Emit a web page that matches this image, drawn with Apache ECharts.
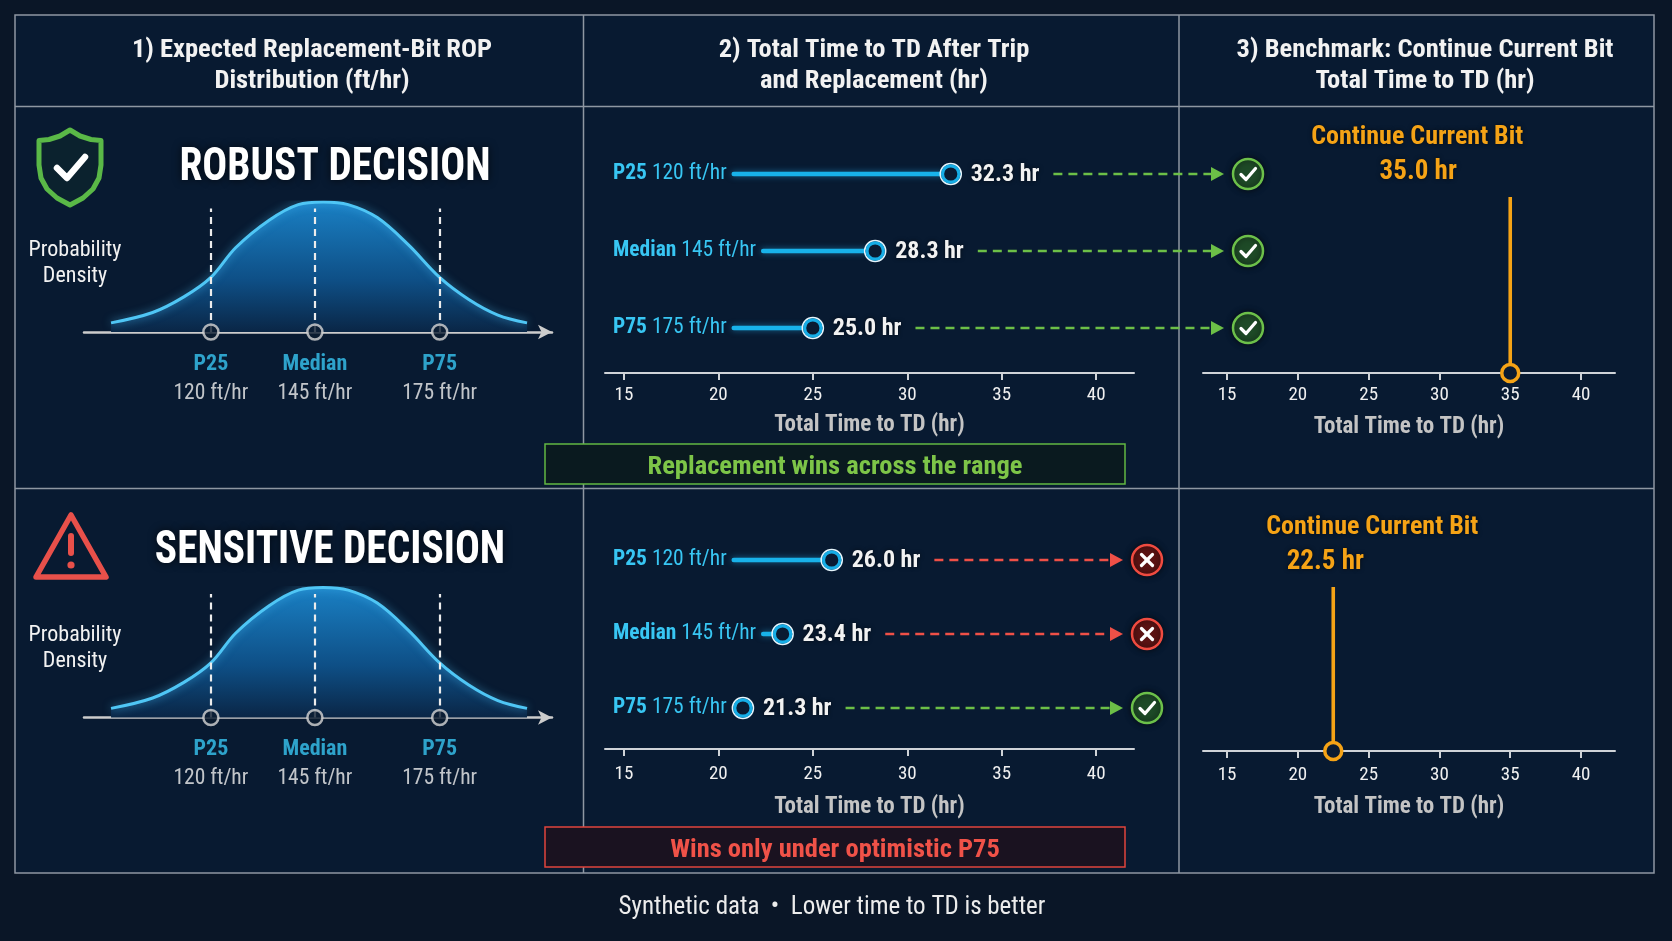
<!DOCTYPE html>
<html>
<head>
<meta charset="utf-8">
<script src="https://cdn.jsdelivr.net/npm/echarts@6/dist/echarts.min.js"></script>
<style>
html,body{margin:0;padding:0;background:#0a1627;}
#chart{width:1672px;height:941px;}
</style>
</head>
<body>
<div id="chart"></div>
<script>
// ---------------- DATA ----------------
const quantileLabels = ['P25', 'Median', 'P75'];
const ropValues = [120, 145, 175];                 // ft/hr
const robustTimes = [32.3, 28.3, 25.0];            // hr, total time to TD after trip
const sensitiveTimes = [26.0, 23.4, 21.3];         // hr
const robustBenchmark = 35.0;                      // hr, continue current bit
const sensitiveBenchmark = 22.5;                   // hr
const timeTicks = [15, 20, 25, 30, 35, 40];
// relative probability density [ROP ft/hr, density]
const densityRobust = [[96,0.07],[106,0.15],[113.5,0.27],[120,0.42],[126,0.65],[134,0.86],[141,0.98],[147,1.0],[153,0.98],[160,0.88],[167.5,0.67],[175,0.42],[182,0.25],[189,0.13],[196,0.07]];
const densitySensitive = [[96,0.07],[106,0.15],[113.5,0.27],[120,0.42],[126,0.65],[134,0.86],[141,0.98],[147,1.0],[153,0.98],[160,0.88],[167.5,0.67],[175,0.42],[182,0.25],[189,0.13],[196,0.07]];
const headers = [
  ['1) Expected Replacement-Bit ROP', 'Distribution (ft/hr)'],
  ['2) Total Time to TD After Trip', 'and Replacement (hr)'],
  ['3) Benchmark: Continue Current Bit', 'Total Time to TD (hr)']
];
const decisionTitles = ['ROBUST DECISION', 'SENSITIVE DECISION'];
const bannerTexts = ['Replacement wins across the range', 'Wins only under optimistic P75'];
const benchmarkName = 'Continue Current Bit';
const axisName = 'Total Time to TD (hr)';
const footerText = 'Synthetic data  \u2022  Lower time to TD is better';

// ---------------- STYLE ----------------
const FF = "'Liberation Sans Narrow','Roboto Condensed','DejaVu Sans Condensed',Roboto,'Noto Sans',sans-serif";
const fnt = (w, s) => `${w} ${s}px ${FF}`;
const C = {
  white: '#f2f2f2', cyan: '#38c6f3', stem: '#18b2ea', gray: '#c4c4c4',
  orange: '#f5a316', green: '#6cbf47', red: '#ef5047', axis: '#cfd3d8',
  panel: '#081a31', dark: '#0a1b32', border: '#8e97a2'
};
const mctx = document.createElement('canvas').getContext('2d');
function measure(text, f) { mctx.font = f; return mctx.measureText(text).width; }

function txt(text, x, y, f, fill, align, extra, props) {
  return Object.assign({
    type: 'text', x: x, y: y,
    style: Object.assign({
      text: text, font: f, fill: fill,
      align: align || 'center', textAlign: align || 'center',
      verticalAlign: 'middle', textVerticalAlign: 'middle'
    }, extra || {})
  }, props || {});
}

const chart = echarts.init(document.getElementById('chart'), null, {renderer: 'canvas'});

// ---------- lollipop panel renderer ----------
function lollipop(times, bench, iconDx) {
  return function (params, api) {
    const i = params.dataIndex;
    const v = api.value(0);
    const row = api.value(1);
    const pt = api.coord([v, row]);
    const y = pt[1];
    const x0 = api.coord([14, row])[0] + 8;
    const gridRight = api.coord([42, row])[0];
    const fb = fnt('bold', 21.5), fr = fnt('normal', 21.5), fv = fnt('bold', 24);
    const lb = quantileLabels[i];
    const lr = ' ' + ropValues[i] + ' ft/hr';
    const wB = measure(lb, fb), wR = measure(lr, fr);
    const els = [];
    els.push(txt(lb, x0, y, fb, C.cyan, 'left'));
    els.push(txt(lr, x0 + wB, y, fr, C.cyan, 'left'));
    const stemStart = x0 + wB + wR + 7;
    if (stemStart < pt[0] - 11) {
      els.push({type: 'line', shape: {x1: stemStart, y1: y, x2: pt[0] - 9, y2: y},
        style: {stroke: C.stem, lineWidth: 4.5, lineCap: 'round', shadowBlur: 6, shadowColor: 'rgba(40,180,240,0.5)'}});
    }
    els.push({type: 'circle', shape: {cx: pt[0], cy: y, r: 10.5}, style: {fill: C.dark, stroke: '#e6f5fc', lineWidth: 1.6}});
    els.push({type: 'circle', shape: {cx: pt[0], cy: y, r: 8.2}, style: {fill: 'none', stroke: '#16ade6', lineWidth: 3.2}});
    const vt = v.toFixed(1) + ' hr';
    els.push(txt(vt, pt[0] + 20, y + 1, fv, C.white, 'left', {textShadowBlur: 4, textShadowColor: 'rgba(0,0,0,0.6)'}));
    const wV = measure(vt, fv);
    const win = v < bench;
    const col = win ? C.green : C.red;
    const iconX = gridRight + iconDx;
    const tip = iconX - 24;
    const ds = pt[0] + 20 + wV + 14;
    els.push({type: 'line', shape: {x1: ds, y1: y, x2: tip - 12, y2: y},
      style: {stroke: col, lineWidth: 2.5, lineDash: [9, 6]}});
    els.push({type: 'polygon', shape: {points: [[tip - 13, y - 7], [tip, y], [tip - 13, y + 7]]}, style: {fill: col}});
    els.push({type: 'circle', shape: {cx: iconX, cy: y, r: 15},
      style: {fill: win ? '#1e4a27' : '#5c1313', stroke: win ? '#6cc04a' : '#ef4b40', lineWidth: 2.5, shadowBlur: 6, shadowColor: 'rgba(0,0,0,0.6)'}});
    if (win) {
      els.push({type: 'polyline', shape: {points: [[iconX - 7, y + 0.5], [iconX - 2, y + 5.5], [iconX + 7.5, y - 5.5]]},
        style: {stroke: '#ffffff', lineWidth: 3.2, lineCap: 'round', lineJoin: 'round', fill: 'none'}});
    } else {
      els.push({type: 'line', shape: {x1: iconX - 5.5, y1: y - 5.5, x2: iconX + 5.5, y2: y + 5.5}, style: {stroke: '#fff', lineWidth: 3.2, lineCap: 'round'}});
      els.push({type: 'line', shape: {x1: iconX - 5.5, y1: y + 5.5, x2: iconX + 5.5, y2: y - 5.5}, style: {stroke: '#fff', lineWidth: 3.2, lineCap: 'round'}});
    }
    return {type: 'group', children: els};
  };
}

// ---------- benchmark renderer ----------
function benchmark(titleDx, valueDx) {
  return function (params, api) {
    const v = api.value(0);
    const base = api.coord([v, 0]);
    const top = api.coord([v, 1]);
    return {type: 'group', children: [
      {type: 'line', shape: {x1: base[0], y1: top[1], x2: base[0], y2: base[1] - 8}, style: {stroke: C.orange, lineWidth: 3.6}},
      {type: 'circle', shape: {cx: base[0], cy: base[1], r: 8.5}, style: {fill: C.dark, stroke: C.orange, lineWidth: 3.5}},
      txt(benchmarkName, base[0] + titleDx, top[1] - 60, fnt('bold', 26), C.orange, 'center', {textShadowBlur: 4, textShadowColor: 'rgba(0,0,0,0.6)'}),
      txt(v.toFixed(1) + ' hr', base[0] + valueDx, top[1] - 25, fnt('bold', 27), C.orange, 'center', {textShadowBlur: 4, textShadowColor: 'rgba(0,0,0,0.6)'})
    ]};
  };
}

// ---------- axes helpers ----------
function bellX(gi) {
  return {gridIndex: gi, type: 'value', min: 89.5, max: 202,
    axisLine: {show: true, lineStyle: {color: '#cccccc', width: 2.5}, symbol: ['none', 'arrow'], symbolSize: [11, 14]},
    axisTick: {show: false}, axisLabel: {show: false}, splitLine: {show: false}};
}
function timeX(gi, min, max, nameGap, offset, margin) {
  return {gridIndex: gi, type: 'value', min: min, max: max, offset: offset || 0,
    axisLine: {show: true, lineStyle: {color: C.axis, width: 2}},
    axisTick: {show: true, customValues: timeTicks, length: 7, lineStyle: {color: C.axis, width: 2}},
    axisLabel: {show: true, customValues: timeTicks, color: '#f0f0f0', fontSize: 19, fontFamily: FF, margin: margin},
    splitLine: {show: false},
    name: axisName, nameLocation: 'middle', nameGap: nameGap,
    nameTextStyle: {color: C.gray, fontSize: 23, fontWeight: 'bold', fontFamily: FF}};
}

const areaGrad = {type: 'linear', x: 0, y: 0, x2: 0, y2: 1,
  colorStops: [{offset: 0, color: '#1a80c4'}, {offset: 0.6, color: '#0e4f86'}, {offset: 1, color: '#0a2646'}]};

function bellSeries(gi, dens) {
  return [{
    type: 'line', xAxisIndex: gi, yAxisIndex: gi, data: dens, smooth: 0.35, symbol: 'none',
    lineStyle: {color: '#4fc6f5', width: 3, shadowBlur: 8, shadowColor: 'rgba(80,200,255,0.6)'},
    areaStyle: {color: areaGrad, opacity: 1},
    markLine: {silent: true, symbol: 'none', label: {show: false},
      lineStyle: {color: '#ececec', type: [7, 5], width: 2.2},
      data: ropValues.map(r => [{coord: [r, 0]}, {coord: [r, 0.95]}])}
  }, {
    type: 'scatter', xAxisIndex: gi, yAxisIndex: gi, z: 5, clip: false,
    data: ropValues.map(r => [r, 0]), symbol: 'circle', symbolSize: 15,
    itemStyle: {color: '#0b1b30', borderColor: '#d6d6d6', borderWidth: 2.5},
    label: {show: true, position: 'bottom', distance: 9,
      formatter: p => `{q|${quantileLabels[p.dataIndex]}}\n{v|${ropValues[p.dataIndex]} ft/hr}`,
      rich: {q: {color: C.cyan, fontWeight: 'bold', fontSize: 22, lineHeight: 29, fontFamily: FF},
             v: {color: '#f0f0f0', fontSize: 21.5, lineHeight: 29, fontFamily: FF}}}
  }];
}

// ---------- graphic (frame, titles, icons, banners) ----------
const G = [];
G.push({type: 'rect', shape: {x: 15, y: 15, width: 1639, height: 858}, style: {fill: C.panel, stroke: C.border, lineWidth: 1.5}, z: -10});
[[15, 106.5, 1654, 106.5], [15, 488.5, 1654, 488.5], [583.5, 15, 583.5, 873], [1179, 15, 1179, 873]].forEach(l => {
  G.push({type: 'line', shape: {x1: l[0], y1: l[1], x2: l[2], y2: l[3]}, style: {stroke: C.border, lineWidth: 1.5}, z: -9});
});
const hdrX = [312, 874, 1425];
headers.forEach((h, i) => {
  G.push(txt(h[0], hdrX[i], 50, fnt('bold', 26.5), C.white));
  G.push(txt(h[1], hdrX[i], 81, fnt('bold', 26.5), C.white));
});
// shield
G.push({type: 'polygon', shape: {points: [[70,130],[80,136],[91,139.5],[101,140.5],[101,165],[99,178],[93,189],[83,198],[70,205],[57,198],[47,189],[41,178],[39,165],[39,140.5],[49,139.5],[60,136]]},
  style: {fill: 'rgba(20,60,40,0.25)', stroke: '#5ab847', lineWidth: 5, lineJoin: 'round'}});
G.push({type: 'polyline', shape: {points: [[57, 168], [67, 178], [85, 157]]},
  style: {stroke: '#ffffff', lineWidth: 6.5, lineCap: 'round', lineJoin: 'round', fill: 'none'}});
// warning triangle
G.push({type: 'polygon', shape: {points: [[71, 515], [106, 577], [36, 577]]},
  style: {fill: 'none', stroke: '#e8504a', lineWidth: 5.5, lineJoin: 'round'}});
G.push({type: 'line', shape: {x1: 71, y1: 536, x2: 71, y2: 553}, style: {stroke: '#e8504a', lineWidth: 6, lineCap: 'round'}});
G.push({type: 'circle', shape: {cx: 71, cy: 565, r: 3.6}, style: {fill: '#e8504a'}});
// decision titles (slightly condensed, taller lettering)
G.push(txt(decisionTitles[0], 335, 168, fnt('bold', 47), '#ffffff', 'center', {textShadowBlur: 8, textShadowColor: 'rgba(0,0,0,0.7)'}, {scaleX: 0.88}));
G.push(txt(decisionTitles[1], 330, 551, fnt('bold', 47), '#ffffff', 'center', {textShadowBlur: 8, textShadowColor: 'rgba(0,0,0,0.7)'}, {scaleX: 0.88}));
// probability density
[[250, 276], [635, 661]].forEach(ys => {
  G.push(txt('Probability', 75, ys[0], fnt('normal', 22), C.white));
  G.push(txt('Density', 75, ys[1], fnt('normal', 22), C.white));
});
// banners
G.push({type: 'rect', shape: {x: 545, y: 444, width: 580, height: 40}, style: {fill: '#0a1a1f', stroke: '#62b843', lineWidth: 1.5}});
G.push(txt(bannerTexts[0], 835, 467, fnt('bold', 26.5), '#7dc548'));
G.push({type: 'rect', shape: {x: 545, y: 827, width: 580, height: 40}, style: {fill: '#1a1220', stroke: '#e0443c', lineWidth: 1.5}});
G.push(txt(bannerTexts[1], 835, 850, fnt('bold', 26.5), '#f05248'));
// footer
G.push(txt(footerText, 832, 908, fnt('normal', 25), '#ececec'));

const option = {
  backgroundColor: '#0a1627',
  animation: false,
  graphic: {elements: G},
  grid: [
    {left: 84, top: 202, width: 468, height: 130},
    {left: 84, top: 587.5, width: 468, height: 130},
    {left: 605, top: 135.5, width: 529, height: 231},
    {left: 605, top: 523, width: 529, height: 222},
    {left: 1203, top: 197, width: 412, height: 176},
    {left: 1203, top: 587, width: 412, height: 164}
  ],
  xAxis: [
    bellX(0), bellX(1),
    timeX(2, 14, 42, 41, 6.5, 13), timeX(3, 14, 42, 47, 4, 16),
    timeX(4, 13.3, 42.4, 43, 0, 13), timeX(5, 13.3, 42.4, 45, 0, 15)
  ],
  yAxis: [
    {gridIndex: 0, type: 'value', min: 0, max: 1, show: false},
    {gridIndex: 1, type: 'value', min: 0, max: 1, show: false},
    {gridIndex: 2, type: 'category', data: quantileLabels, inverse: true, show: false},
    {gridIndex: 3, type: 'category', data: quantileLabels, inverse: true, show: false},
    {gridIndex: 4, type: 'value', min: 0, max: 1, show: false},
    {gridIndex: 5, type: 'value', min: 0, max: 1, show: false}
  ],
  series: [
    ...bellSeries(0, densityRobust),
    ...bellSeries(1, densitySensitive),
    {type: 'custom', xAxisIndex: 2, yAxisIndex: 2, z: 10, data: robustTimes.map((t, i) => [t, i]),
      renderItem: lollipop(robustTimes, robustBenchmark, 114)},
    {type: 'custom', xAxisIndex: 3, yAxisIndex: 3, z: 10, data: sensitiveTimes.map((t, i) => [t, i]),
      renderItem: lollipop(sensitiveTimes, sensitiveBenchmark, 13)},
    {type: 'custom', xAxisIndex: 4, yAxisIndex: 4, z: 10, data: [[robustBenchmark, 0]],
      renderItem: benchmark(-93, -92)},
    {type: 'custom', xAxisIndex: 5, yAxisIndex: 5, z: 10, data: [[sensitiveBenchmark, 0]],
      renderItem: benchmark(39, -8)}
  ]
};
chart.setOption(option);
</script>
</body>
</html>
